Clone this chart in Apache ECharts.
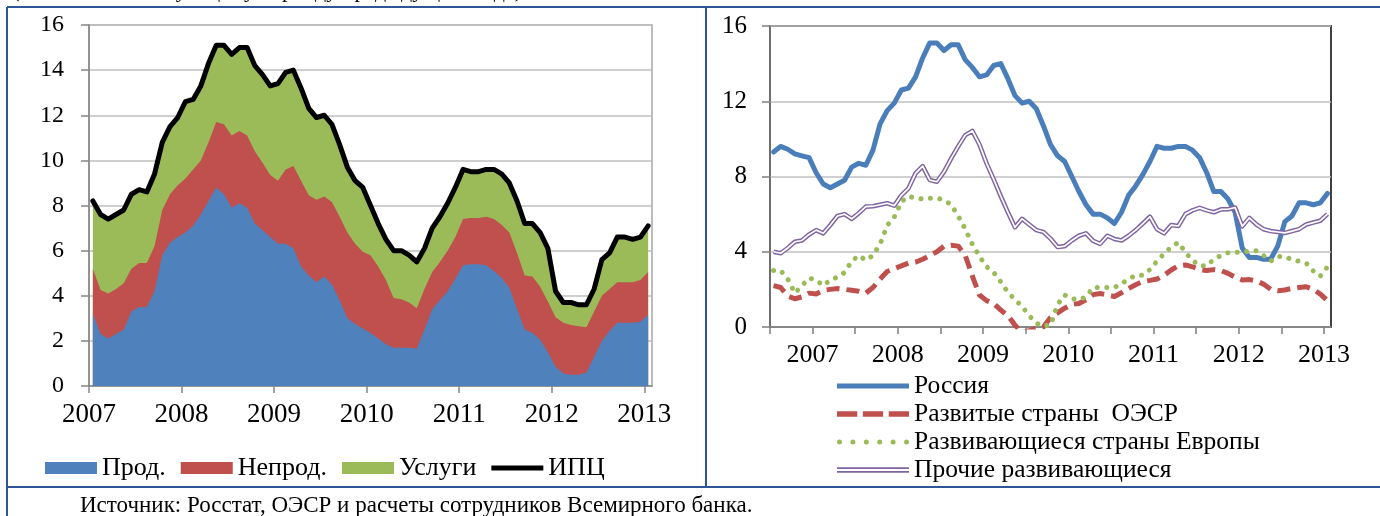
<!DOCTYPE html>
<html><head><meta charset="utf-8">
<script src="https://cdn.jsdelivr.net/npm/echarts@6/dist/echarts.min.js"></script>
<style>html,body{margin:0;padding:0;background:#fff}#c{width:1380px;height:516px}</style>
</head><body><div id="c"></div><script>
// ---------- DATA ----------
const yearLabels = ['2007','2008','2009','2010','2011','2012','2013'];
const leftTicks = [0,12,24,36,48,60,72];          // months from Jan 2007
const rightTicks = [-6,0,6,12,18,24,30,36,42,48,54,60,66,72];
// Left chart: monthly Jan 2007 - Jan 2013, contributions to CPI, p.p.
const prod = [3.2,2.3,2.1,2.3,2.5,3.3,3.5,3.5,4.2,5.8,
  6.35,6.6,6.8,7.1,7.6,8.2,8.8,8.5,7.9,8.1,
  7.9,7.2,6.9,6.6,6.3,6.3,6.1,5.3,4.9,4.6,
  4.85,4.5,3.8,3.0,2.75,2.55,2.35,2.1,1.85,1.7,
  1.7,1.7,1.65,2.5,3.4,3.8,4.2,4.75,5.35,5.4,
  5.4,5.35,5.1,4.8,4.35,3.4,2.5,2.35,2.05,1.5,
  0.85,0.55,0.5,0.5,0.6,1.3,2.0,2.45,2.8,2.8,
  2.8,2.85,3.15];
const nonprod = [2.0,1.95,2.0,2.0,2.05,1.9,1.95,1.95,2.0,2.0,
  2.15,2.3,2.4,2.5,2.4,2.6,2.9,3.1,3.2,3.2,
  3.2,3.2,3.0,2.75,2.8,3.3,3.65,3.8,3.55,3.65,
  3.55,3.65,3.7,3.8,3.55,3.4,3.45,3.2,2.85,2.2,
  2.15,2.0,1.8,1.8,1.65,1.7,1.8,1.85,2.05,2.05,
  2.05,2.15,2.3,2.35,2.45,2.5,2.4,2.5,2.35,2.25,
  2.2,2.25,2.2,2.15,2.0,2.0,2.0,1.85,1.8,1.8,
  1.8,1.85,1.9];
const services = [3.0,3.35,3.3,3.3,3.25,3.3,3.25,3.15,3.2,3.0,
  3.0,3.0,3.4,3.1,3.3,3.5,3.4,3.5,3.6,3.7,
  3.9,3.8,3.9,3.95,4.3,4.3,4.25,4.1,3.85,3.65,
  3.6,3.45,3.2,2.9,2.8,2.85,2.2,1.9,1.8,2.1,
  2.15,2.1,2.05,1.8,1.95,2.0,2.1,2.2,2.2,2.05,
  2.05,2.1,2.2,2.25,2.2,2.3,2.3,2.35,2.4,2.35,
  1.15,0.9,1.0,0.95,1.0,1.0,1.6,1.6,2.0,2.0,
  1.9,1.9,2.05];
const cpi = [8.2,7.6,7.4,7.6,7.8,8.5,8.7,8.6,9.4,10.8,
  11.5,11.9,12.6,12.7,13.3,14.3,15.1,15.1,14.7,15.0,
  15.0,14.2,13.8,13.3,13.4,13.9,14.0,13.2,12.3,11.9,
  12.0,11.6,10.7,9.7,9.1,8.8,8.0,7.2,6.5,6.0,
  6.0,5.8,5.5,6.1,7.0,7.5,8.1,8.8,9.6,9.5,
  9.5,9.6,9.6,9.4,9.0,8.2,7.2,7.2,6.8,6.1,
  4.2,3.7,3.7,3.6,3.6,4.3,5.6,5.9,6.6,6.6,
  6.5,6.6,7.1];
// Right chart: monthly Jul 2006 - Jan 2013, % y/y
const russia2006 = [9.3,9.6,9.45,9.2,9.1,9.0];
const russia = russia2006.concat(cpi);
const oecd = [2.2,2.1,1.65,1.5,1.6,1.8,1.75,1.95,2.0,2.05,
  2.0,1.95,1.9,1.8,2.1,2.55,2.95,3.1,3.25,3.4,
  3.45,3.6,3.8,4.0,4.3,4.35,4.3,3.8,2.7,1.7,
  1.4,1.25,0.9,0.6,0.1,-0.3,-0.2,-0.05,0.0,0.5,
  0.75,1.0,1.2,1.25,1.45,1.72,1.78,1.7,1.62,1.82,
  2.05,2.25,2.42,2.48,2.55,2.75,3.03,3.25,3.3,3.2,
  3.05,3.0,3.05,3.0,2.85,2.65,2.5,2.52,2.45,2.28,
  2.0,1.93,1.97,2.05,2.1,2.14,2.0,1.75,1.4];
const emEurope = [3.0,3.0,2.55,1.8,2.2,2.6,2.5,2.2,2.5,2.65,
  2.9,3.5,3.8,3.55,3.8,4.4,5.4,5.85,6.65,6.95,
  6.85,6.8,6.85,6.85,6.75,6.5,5.9,5.2,4.4,3.75,
  3.2,2.9,2.4,1.85,1.45,1.1,0.6,0.2,0.05,0.1,
  1.2,1.7,1.5,1.45,1.6,2.1,2.1,2.1,2.1,2.3,
  2.55,2.75,2.75,3.05,3.5,3.9,4.25,4.5,3.97,3.55,
  3.25,3.25,3.6,3.8,3.95,3.98,3.95,4.05,4.05,3.8,
  3.5,3.75,3.75,3.57,3.5,3.4,2.98,2.7,3.2];
const otherEm = [4.0,3.92,4.2,4.53,4.6,4.92,5.15,4.98,5.42,5.9,
  6.0,5.75,6.05,6.4,6.42,6.5,6.58,6.45,7.0,7.37,
  8.17,8.55,7.81,7.72,8.25,8.95,9.6,10.2,10.42,9.7,
  8.7,7.85,6.95,6.1,5.3,5.75,5.45,5.15,5.05,4.7,
  4.25,4.3,4.6,4.85,4.98,4.58,4.42,4.85,4.68,4.6,
  4.85,5.15,5.5,5.86,5.2,4.98,5.42,5.37,6.0,6.2,
  6.33,6.2,6.1,6.25,6.26,6.35,5.35,5.8,5.45,5.2,
  5.1,5.05,5.0,5.1,5.2,5.45,5.55,5.65,6.0];

// ---------- BUILD ----------
const FONT = 'Liberation Serif';
const pts = (arr, start) => arr.map((v, i) => [start + i + 0.5, v]);
const cum1 = prod.slice();
const cum2 = prod.map((v, i) => v + nonprod[i]);
const cum3 = cum2.map((v, i) => v + services[i]);
const yearFmt = v => yearLabels[Math.round(v / 12)] || '';

const C = {blue:'#4F81BD', red:'#C0504D', green:'#9BBB59', purple:'#8064A2', russia:'#4A7EBB'};

function dotsPath(n, w, r) {
  let p = '';
  for (let k = 0; k < n; k++) {
    const cx = r + k * (w - 2 * r) / (n - 1);
    p += 'M' + (cx - r) + ',' + r + 'a' + r + ',' + r + ' 0 1,0 ' + (2 * r) + ',0a' + r + ',' + r + ' 0 1,0 ' + (-2 * r) + ',0z';
  }
  return 'path://' + p;
}

const chart = echarts.init(document.getElementById('c'), null, {renderer: 'canvas'});
const axisLab = (size, margin) => ({fontFamily: FONT, fontSize: size, color: '#000', margin: margin});

chart.setOption({
  animation: false,
  backgroundColor: '#fff',
  grid: [
    {left: 89, top: 25, width: 563, height: 361, show: true, borderColor: '#A6A6A6', borderWidth: 1.5, backgroundColor: 'transparent'},
    {left: 770, top: 26, width: 561, height: 301, show: true, borderColor: '#404040', borderWidth: 2, backgroundColor: 'transparent'}
  ],
  xAxis: [
    {type: 'value', gridIndex: 0, min: 0, max: 73,
     splitLine: {show: false},
     axisLine: {onZero: false, lineStyle: {color: '#868686', width: 1.5}},
     axisTick: {customValues: leftTicks, length: 7, lineStyle: {color: '#868686', width: 1.5}},
     axisLabel: Object.assign({customValues: leftTicks, formatter: yearFmt}, axisLab(27, 15))},
    {type: 'value', gridIndex: 1, min: -6, max: 73,
     splitLine: {show: false},
     axisLine: {onZero: false, lineStyle: {color: '#7F7F7F', width: 1.5}},
     axisTick: {customValues: rightTicks, length: 7, lineStyle: {color: '#7F7F7F', width: 1.5}},
     axisLabel: Object.assign({customValues: leftTicks, formatter: yearFmt}, axisLab(26, 15))}
  ],
  yAxis: [
    {type: 'value', gridIndex: 0, min: 0, max: 16, interval: 2,
     axisLine: {show: true, onZero: false, lineStyle: {color: '#868686', width: 1.5}},
     axisTick: {show: true, length: 8, lineStyle: {color: '#868686', width: 1.5}},
     splitLine: {lineStyle: {color: '#BFBFBF', width: 1.5}},
     axisLabel: axisLab(24, 25)},
    {type: 'value', gridIndex: 1, min: 0, max: 16, interval: 4,
     axisLine: {show: true, onZero: false, lineStyle: {color: '#7F7F7F', width: 1.5}},
     axisTick: {show: true, length: 8, lineStyle: {color: '#7F7F7F', width: 1.5}},
     splitLine: {lineStyle: {color: '#C0C0C0', width: 1.5}},
     axisLabel: axisLab(25, 23)}
  ],
  legend: [
    {left: 40, top: 450, itemWidth: 52, itemHeight: 12, itemGap: 15,
     textStyle: {fontFamily: FONT, fontSize: 26, color: '#000'},
     data: [
       {name: 'Прод.', icon: 'rect', itemStyle: {color: C.blue, borderWidth: 0}},
       {name: 'Непрод.', icon: 'rect', itemStyle: {color: C.red, borderWidth: 0}},
       {name: 'Услуги', icon: 'rect', itemStyle: {color: C.green, borderWidth: 0}},
       {name: 'ИПЦ', icon: 'path://M0,0h52v5h-52z', itemStyle: {color: '#000', borderWidth: 0}}
     ]},
    {orient: 'vertical', left: 832, top: 367, itemWidth: 72, itemHeight: 12, itemGap: 0,
     textStyle: {fontFamily: FONT, fontSize: 25.5, color: '#000', lineHeight: 28},
     data: [
       {name: 'Россия', icon: 'path://M0,0h72v5h-72z', itemStyle: {color: C.russia, borderWidth: 0}},
       {name: 'Развитые страны  ОЭСР', icon: 'path://M0,0h18v5h-18z M23,0h18v5h-18z M46,0h18v5h-18z', itemStyle: {color: C.red, borderWidth: 0}},
       {name: 'Развивающиеся страны Европы', icon: dotsPath(6, 72, 2.5), itemStyle: {color: C.green, borderWidth: 0}},
       {name: 'Прочие развивающиеся', icon: 'path://M0,0h72v1.7h-72z M0,3.6h72v1.7h-72z', itemStyle: {color: C.purple, borderWidth: 0}}
     ]}
  ],
  series: [
    {type: 'line', name: 'Услуги', xAxisIndex: 0, yAxisIndex: 0, data: pts(cum3, 0), symbol: 'none',
     lineStyle: {width: 0}, itemStyle: {color: C.green}, areaStyle: {color: C.green, opacity: 1}},
    {type: 'line', name: 'Непрод.', xAxisIndex: 0, yAxisIndex: 0, data: pts(cum2, 0), symbol: 'none',
     lineStyle: {width: 0}, itemStyle: {color: C.red}, areaStyle: {color: C.red, opacity: 1}},
    {type: 'line', name: 'Прод.', xAxisIndex: 0, yAxisIndex: 0, data: pts(cum1, 0), symbol: 'none',
     lineStyle: {width: 0}, itemStyle: {color: C.blue}, areaStyle: {color: C.blue, opacity: 1}},
    {type: 'line', name: 'ИПЦ', xAxisIndex: 0, yAxisIndex: 0, data: pts(cpi, 0), symbol: 'none',
     itemStyle: {color: '#000'}, lineStyle: {color: '#000', width: 5, join: 'round', cap: 'round'}},

    {type: 'line', name: 'Россия', xAxisIndex: 1, yAxisIndex: 1, data: pts(russia, -6), symbol: 'none',
     itemStyle: {color: C.russia}, lineStyle: {color: C.russia, width: 5, join: 'round', cap: 'round'}},
    {type: 'line', name: 'Развитые страны  ОЭСР', xAxisIndex: 1, yAxisIndex: 1, data: pts(oecd, -6), symbol: 'none',
     itemStyle: {color: C.red}, lineStyle: {color: C.red, width: 5, type: [13, 7], join: 'round'}},
    {type: 'line', name: 'Развивающиеся страны Европы', xAxisIndex: 1, yAxisIndex: 1, data: pts(emEurope, -6), symbol: 'none',
     itemStyle: {color: C.green}, lineStyle: {color: C.green, width: 5, type: [0.01, 9.5], cap: 'round', join: 'round'}},
    {type: 'line', name: 'Прочие развивающиеся', xAxisIndex: 1, yAxisIndex: 1, data: pts(otherEm, -6), symbol: 'none',
     itemStyle: {color: C.purple}, lineStyle: {color: C.purple, width: 4.6, join: 'round'}},
    {type: 'line', name: 'Прочие развивающиеся', xAxisIndex: 1, yAxisIndex: 1, data: pts(otherEm, -6), symbol: 'none',
     itemStyle: {color: '#fff'}, lineStyle: {color: '#fff', width: 1.7, join: 'round'}, silent: true}
  ],
  graphic: [
    {type: 'text', silent: true, style: {text: 'Годовой рост цен (в % к соответствующему периоду предыдущего года)', x: 522, y: 2, textAlign: 'right', verticalAlign: 'bottom', font: '22px "Liberation Serif"', fill: '#000'}},
    {type: 'line', silent: true, shape: {x1: 7, y1: 7, x2: 1380, y2: 7}, style: {stroke: '#2E5597', lineWidth: 2}},
    {type: 'line', silent: true, shape: {x1: 7, y1: 7, x2: 7, y2: 516}, style: {stroke: '#2E5597', lineWidth: 2}},
    {type: 'line', silent: true, shape: {x1: 706, y1: 7, x2: 706, y2: 487}, style: {stroke: '#2E5597', lineWidth: 2}},
    {type: 'line', silent: true, shape: {x1: 7, y1: 487, x2: 1380, y2: 487}, style: {stroke: '#2E5597', lineWidth: 2}},
    {type: 'text', silent: true, style: {text: 'Источник: Росстат, ОЭСР и расчеты сотрудников Всемирного банка.', x: 80, y: 506, verticalAlign: 'middle', font: '23px "Liberation Serif"', fill: '#000'}}
  ]
});
</script></body></html>
